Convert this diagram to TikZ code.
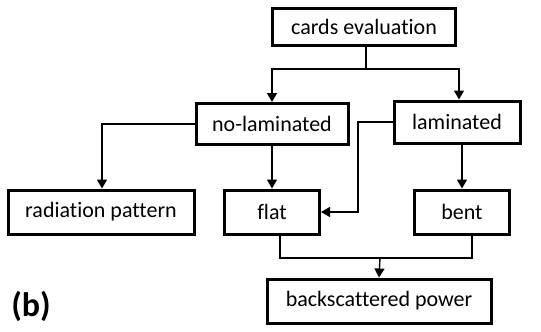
\documentclass[tikz,border=0pt]{standalone}
\usepackage{fontspec}
\setmainfont[Ligatures=NoCommon]{Carlito}
\usepackage{tikz}
\usetikzlibrary{positioning,arrows.meta,calc}

\begin{document}
\begin{tikzpicture}[x=1pt,y=-1pt,
    box/.style={draw,line width=3pt,rectangle,inner sep=0pt,anchor=center,font=\fontsize{22}{24}\selectfont},
    link/.style={line width=1.4pt},
    arr/.style={link,-{Triangle[length=9pt,width=10pt]}}]
    \useasboundingbox (0,0) rectangle (541,332);
    \node[box,minimum width=183pt,minimum height=37pt] (cards) at (364,27) {cards evaluation};
    \node[box,minimum width=152pt,minimum height=41pt] (nolam) at (272,124) {no-laminated};
    \node[box,minimum width=126pt,minimum height=42pt] (lam) at (457,122) {laminated};
    \node[box,minimum width=186pt,minimum height=44pt] (rad) at (101,212) {radiation pattern};
    \node[box,minimum width=95pt,minimum height=44pt] (flat) at (272,212) {flat};
    \node[box,minimum width=95pt,minimum height=44pt] (bent) at (462,212) {bent};
    \node[box,minimum width=224pt,minimum height=44pt] (back) at (379,301) {backscattered power};
    \node[font=\bfseries\fontsize{34}{36}\selectfont] (label) at (31,306) {(b)};
    \coordinate (split) at (366,69);
    \coordinate (turn) at (358,212);
    \coordinate (merge) at (380,258);
    \draw[link] (cards.south -| split) -- (split);
    \draw[arr] (split) -| (nolam.north);
    \draw[arr] (split) -| ([xshift=2pt]lam.north);
    \draw[arr] (nolam.west) -| ([xshift=1pt]rad.north);
    \draw[arr] (nolam.south) -- (flat.north);
    \draw[arr] (lam.west) -| (turn) -- (flat.east);
    \draw[arr] (bent.north |- lam.south) -- (bent.north);
    \draw[link] ([xshift=8pt]flat.south) |- (merge) -| ([xshift=10pt]bent.south);
    \draw[arr] (merge) -- (back.north);
\end{tikzpicture}
\end{document}
